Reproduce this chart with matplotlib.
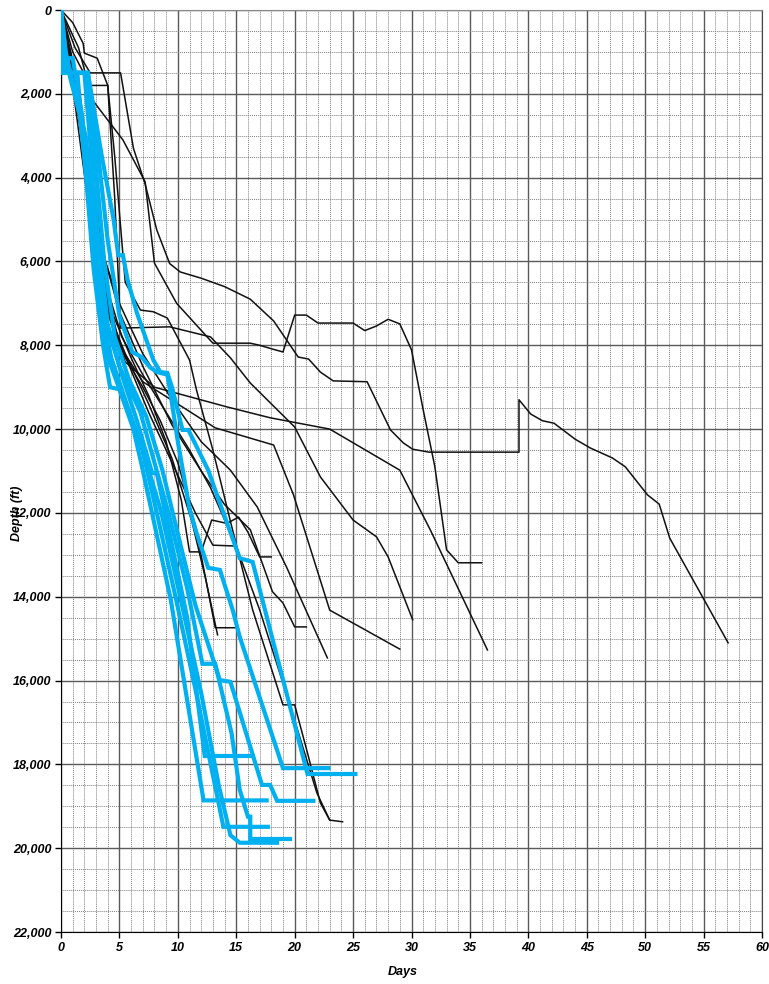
import numpy as np
import matplotlib.pyplot as plt
from matplotlib.ticker import MultipleLocator, FuncFormatter

# offset wells (thin black lines)
wa_days = [0, 1.2, 2.5, 5.1, 6.2, 7.2, 8.2, 9.3, 10.2, 12, 14, 16.2, 18.2, 20.3, 21.2, 22.2, 23.3, 26.2, 28.2, 29.3, 30.1, 31.5, 39.2, 39.2, 40.2, 41.2, 42.2, 44, 45.3, 47.2, 48.3, 50.2, 51.2, 52.1, 57.1]
wa_depth = [0, 900, 1500, 1500, 3300, 4150, 5250, 6050, 6250, 6400, 6600, 6900, 7420, 8280, 8330, 8640, 8850, 8870, 10020, 10330, 10480, 10550, 10550, 9300, 9640, 9800, 9860, 10240, 10450, 10690, 10900, 11570, 11790, 12600, 15100]

wb_days = [0, 1.5, 2.7, 5.3, 7.2, 8.0, 9.9, 13, 16.2, 17, 18.1, 19, 20, 21, 22, 25, 26, 27, 28, 29, 30, 31, 32, 33, 34, 36]
wb_depth = [0, 900, 2150, 3100, 4100, 6040, 7000, 7950, 7950, 8000, 8090, 8160, 7280, 7280, 7470, 7470, 7650, 7540, 7380, 7490, 8110, 9540, 10900, 12880, 13190, 13190]

wc_days = [0, 1, 2.2, 3.4, 4.5, 5.5, 8, 14.2, 17.9, 23, 29, 31.6, 36.5]
wc_depth = [0, 1500, 3800, 6200, 7700, 8400, 9000, 9470, 9730, 10000, 10980, 12400, 15270]

wd_days = [0, 1.3, 2.6, 3.8, 5, 7, 13.2, 18.2, 19.9, 23, 29]
wd_depth = [0, 1800, 4200, 6500, 8000, 8870, 9970, 10380, 11570, 14320, 15250]

we_days = [0, 1, 1.9, 2, 3.1, 4, 4.6, 5.1, 9.3, 12.8, 14.5, 16.2, 20, 22.2, 25, 27, 28, 30.1]
we_depth = [0, 300, 800, 1030, 1150, 1800, 4500, 7590, 7560, 7800, 8300, 8900, 9950, 11140, 12170, 12570, 13050, 14550]

wf_days = [0, 1.2, 2.5, 3.8, 5, 7, 9.5, 12, 14.5, 16.8, 19.3, 22.8]
wf_depth = [0, 1500, 3800, 6000, 7000, 8200, 9300, 10300, 10980, 11860, 13290, 15460]

wg_days = [0, 1, 2.3, 3.6, 5, 7, 9.5, 12, 14, 15.1, 16.2, 18.1, 19, 20, 21]
wg_depth = [0, 1200, 3500, 5800, 7200, 8500, 9900, 11000, 11800, 12100, 12400, 13880, 14150, 14720, 14720]

wh_days = [0, 1, 2.2, 3.4, 4.5, 6, 7.5, 9, 10.3, 11, 12, 12.9, 14.2, 15.2, 16, 17, 18]
wh_depth = [0, 1300, 3600, 6000, 7300, 8300, 9200, 10300, 11700, 12930, 12930, 12170, 12250, 12100, 12460, 13050, 13050]

wi_days = [0, 0.8, 2, 3.2, 4.5, 6, 7.5, 9.5, 11.5, 13, 14.9]
wi_depth = [0, 1200, 3500, 6000, 7500, 8600, 9600, 10800, 12000, 12770, 12790]

wj_days = [0, 1, 2, 3, 4.2, 5.5, 7, 8.5, 10, 11.5, 13.2, 14.9]
wj_depth = [0, 1500, 3500, 5800, 7400, 8300, 9000, 9800, 10800, 12300, 14740, 14740]

wk_days = [0, 0.8, 1.8, 2.8, 4, 5.5, 7.5, 9.5, 11.2, 12.4, 13.4]
wk_depth = [0, 1400, 3500, 5600, 7200, 8200, 9400, 10700, 12200, 13600, 14910]

wl_days = [0, 1, 2.5, 4, 4.6, 5.5, 6.8, 7.9, 9.1, 11, 11.6, 13, 14.5, 16.4, 19, 20, 21.1, 22.2, 23, 24.1]
wl_depth = [0, 1000, 1800, 1800, 3500, 6500, 7160, 7200, 7350, 8350, 9070, 10500, 12200, 14310, 16580, 16580, 17730, 18920, 19330, 19370]

wm_days = [0, 1.2, 2.5, 3.8, 5.2, 7, 9, 11, 12.8, 15, 17, 19.5, 21.9, 23]
wm_depth = [0, 1800, 4200, 6500, 7800, 8700, 9600, 10500, 11400, 12800, 14310, 16500, 18680, 19330]

# recent wells (thick blue lines)
b1_days = [0, 0.2, 2.3, 3.5, 4.5, 4.9, 5.3, 5.7, 6.5, 7.9, 8.5, 9.1, 9.5, 10.4, 10.9, 12.6, 13.6, 15.3, 16.4, 18.5, 21.1, 25.2]
b1_depth = [0, 1500, 1500, 3500, 5000, 5850, 5850, 6440, 7230, 8350, 8640, 8660, 9000, 10020, 10020, 10980, 11770, 13080, 13170, 15440, 18230, 18230]

b2_days = [0, 0.3, 2.3, 3.2, 4.0, 5.0, 6.1, 6.9, 7.6, 8.2, 9.1, 9.3, 10.0, 11.0, 11.6, 12.6, 13.6, 14.7, 15.3, 19.0, 22.9]
b2_depth = [0, 1500, 1500, 3500, 5500, 7300, 8160, 8280, 8520, 8640, 8700, 9020, 10300, 11900, 12480, 13310, 13360, 14320, 14960, 18090, 18090]

b3_days = [0, 0.2, 2.3, 3.0, 3.7, 4.6, 5.8, 7.3, 8.7, 10.0, 11.5, 13.6, 14.5, 17.2, 17.9, 18.5, 21.6]
b3_depth = [0, 1500, 1500, 3800, 6000, 7800, 8800, 9700, 11000, 12500, 14200, 15990, 16030, 18490, 18490, 18870, 18870]

b4_days = [0, 0.2, 2.0, 2.6, 3.2, 4.0, 5.2, 6.5, 7.8, 8.2, 9.3, 10.8, 12.3, 16.4]
b4_depth = [0, 1500, 1500, 3500, 5500, 7500, 8700, 9800, 11050, 11050, 12500, 14500, 17800, 17800]

b5_days = [0, 0.4, 2.1, 2.9, 3.8, 5.0, 6.8, 8.0, 9.2, 10.8, 12.1, 13.2, 14.6, 15.3, 16.0, 16.2, 16.2, 19.6]
b5_depth = [0, 1000, 3000, 5000, 7400, 8500, 9600, 10800, 12000, 13800, 15600, 15600, 17260, 18610, 19250, 19250, 19780, 19780]

b6_days = [0, 0.2, 1.4, 2.0, 2.8, 3.6, 4.2, 5.0, 6.2, 7.0, 9.4, 12.2, 17.6]
b6_depth = [0, 1500, 1500, 3500, 6200, 8000, 9000, 9050, 10000, 10980, 14080, 18860, 18860]

b7_days = [0, 0.5, 1.6, 2.4, 3.1, 3.9, 5.2, 6.8, 8.2, 9.8, 11.5, 13.9, 17.7]
b7_depth = [0, 1300, 2500, 4500, 6500, 8200, 9200, 10300, 12000, 14000, 16200, 19490, 19490]

b8_days = [0, 0.3, 0.6, 1.0, 1.8, 2.6, 3.4, 4.3, 5.5, 7.0, 8.6, 10.2, 12.0, 13.5, 14.5, 15.3, 18.5]
b8_depth = [0, 1100, 1150, 1150, 2500, 4800, 7000, 8300, 9300, 10500, 12000, 14000, 16300, 18500, 19690, 19870, 19870]

offset_wells = [(wa_days, wa_depth), (wb_days, wb_depth), (wc_days, wc_depth), (wd_days, wd_depth),
                (we_days, we_depth), (wf_days, wf_depth), (wg_days, wg_depth), (wh_days, wh_depth),
                (wi_days, wi_depth), (wj_days, wj_depth), (wk_days, wk_depth), (wl_days, wl_depth),
                (wm_days, wm_depth)]
recent_wells = [(b1_days, b1_depth), (b2_days, b2_depth), (b3_days, b3_depth), (b4_days, b4_depth),
                (b5_days, b5_depth), (b6_days, b6_depth), (b7_days, b7_depth), (b8_days, b8_depth)]

plt.rcParams['font.family'] = ['Liberation Sans', 'DejaVu Sans']

fig = plt.figure(figsize=(7.69, 9.84), dpi=100)
ax = fig.add_axes([61 / 769, 1 - 932 / 984, 701 / 769, 922 / 984])

for d, z in offset_wells:
    ax.plot(d, z, color='#111111', lw=1.1, zorder=3)
for d, z in recent_wells:
    ax.plot(d, z, color='#00B0F0', lw=3.0, zorder=4, solid_joinstyle='miter')

ax.set_xlim(0, 60)
ax.set_ylim(22000, 0)
ax.xaxis.set_major_locator(MultipleLocator(5))
ax.xaxis.set_minor_locator(MultipleLocator(1))
ax.yaxis.set_major_locator(MultipleLocator(2000))
ax.yaxis.set_minor_locator(MultipleLocator(500))
ax.yaxis.set_major_formatter(FuncFormatter(lambda v, p: f'{int(v):,}'))

# major lines solid gray, minor lines fine dotted
ax.grid(which='major', color='#5a5a5a', lw=1.0, ls='-', zorder=1)
ax.grid(which='minor', color='#808080', lw=0.7, ls=(0, (1, 1)), zorder=1)

for lab in ax.get_xticklabels() + ax.get_yticklabels():
    lab.set_fontweight('bold')
    lab.set_fontstyle('italic')
    lab.set_fontsize(9)
ax.tick_params(which='major', length=4, width=1, color='black', pad=3)
ax.tick_params(which='minor', length=0)

ax.spines['left'].set_color('black')
ax.spines['bottom'].set_color('black')
ax.spines['top'].set_color('#888888')
ax.spines['right'].set_color('#444444')

fig.text(403 / 769, 1 - 972 / 984, 'Days', ha='center', va='center',
         fontsize=9, fontweight='bold', fontstyle='italic')
fig.text(17 / 769, 1 - 513 / 984, 'Depth (ft)', ha='center', va='center', rotation=90,
         fontsize=9, fontweight='bold', fontstyle='italic')

fig.savefig('out.png', dpi=100)
